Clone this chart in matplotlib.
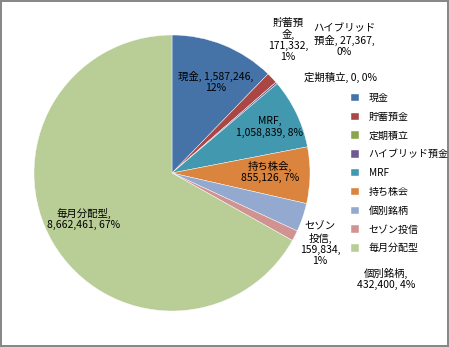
import matplotlib
matplotlib.use('Agg')
import matplotlib.pyplot as plt

plt.rcParams['font.family'] = ['Noto Sans CJK JP', 'DejaVu Sans']

# data
names = ['現金', '貯蓄預金', '定期積立', 'ハイブリッド預金', 'MRF',
         '持ち株会', '個別銘柄', 'セゾン投信', '毎月分配型']
values = [1587246, 171332, 0, 27367, 1058839, 855126, 432400, 159834, 8662461]
percents = ['12%', '1%', '0%', '0%', '8%', '7%', '4%', '1%', '67%']
# how each data label is wrapped in the reference
label_names = ['現金', '貯蓄預\n金', '定期積立', 'ハイブリッド\n預金', 'MRF',
               '持ち株会', '個別銘柄', 'セゾン\n投信', '毎月分配型']
label_seps = [', ', ',\n', ', ', ', ', ',\n', ',\n', ',\n', ',\n', ',\n']
label_seps2 = [',\n', ',\n', ', ', ',\n', ', ', ', ', ', ', ',\n', ', ']
colors = ['#4572A7', '#AA4643', '#89A54E', '#71588F', '#4198AF',
          '#DB843D', '#93A9CF', '#D19392', '#B9CD96']
# label centres in pixels (x, y from top)
label_px = [(216, 82), (288, 40), (341, 77), (344, 40), (270, 127),
            (270, 172), (386, 279), (320, 244), (84, 219)]

W, H = 449, 347
cx, cy, r = 172, 173, 138

fig = plt.figure(figsize=(W / 100, H / 100), dpi=100,
                 edgecolor='#888888', linewidth=1.5)
ax = fig.add_axes([(cx - r) / W, (H - cy - r) / H, 2 * r / W, 2 * r / H])
wedges, _ = ax.pie(values, colors=colors, startangle=90, counterclock=False,
                   radius=1, wedgeprops=dict(edgecolor='white', linewidth=0.3))
ax.set_xlim(-1, 1)
ax.set_ylim(-1, 1)
ax.set_aspect('auto')

for i in range(len(names)):
    txt = f'{label_names[i]}{label_seps[i]}{values[i]:,}{label_seps2[i]}{percents[i]}'
    px, py = label_px[i]
    ax.text((px - cx) / r, (cy - py) / r, txt, ha='center', va='center',
            fontsize=7.5, linespacing=1.15, clip_on=False)

leg = fig.legend(wedges, names, loc='upper left',
                 bbox_to_anchor=(346 / W, (H - 88) / H), frameon=False,
                 fontsize=7.2, handlelength=0.75, handleheight=0.75,
                 handletextpad=1.0, labelspacing=0.88, borderpad=0)

fig.savefig('out.png', dpi=100)
